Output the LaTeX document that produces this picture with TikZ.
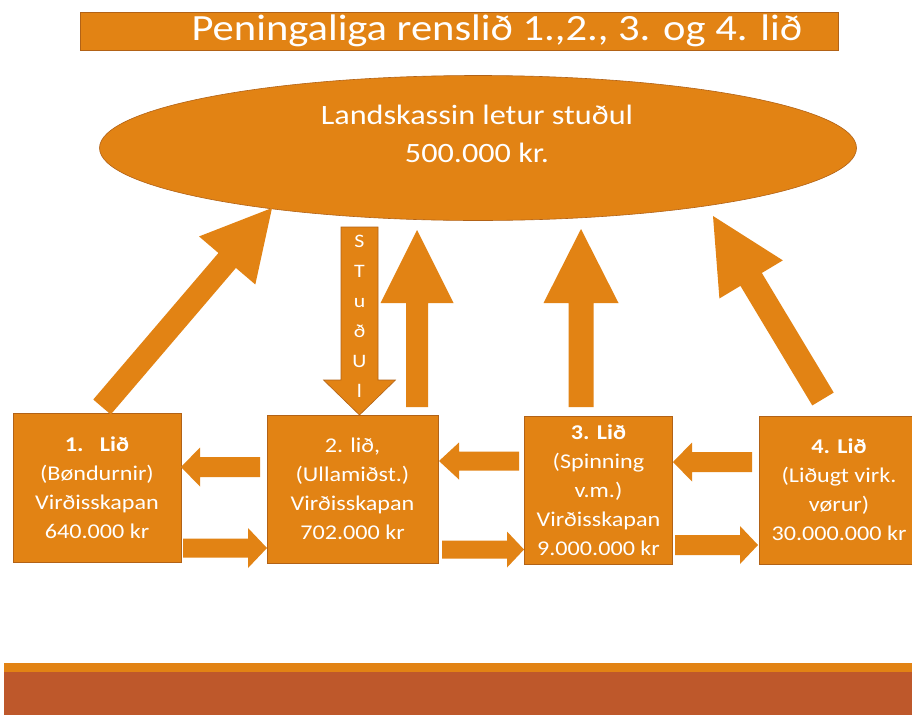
\documentclass[tikz,border=0pt]{standalone}
\usepackage{fontspec}
\setmainfont{Carlito}[FakeStretch=1.15]
\usetikzlibrary{calc,shapes.geometric}
\definecolor{orfill}{RGB}{226,131,20}
\definecolor{orline}{RGB}{178,98,22}
\definecolor{ordark}{RGB}{190,88,43}
\tikzset{
  boxnode/.style={draw=orline,line width=0.7pt,fill=orfill,minimum width=#1,minimum height=148pt,inner sep=0pt},
  boxtext/.style={text=white,align=center,font=\fontsize{21}{29}\selectfont,inner sep=0pt},
  arrowfill/.style={fill=orfill},
}
\newcommand\blockarrow[6][]{%
  \coordinate (ba-b) at ($(#3)!#6!(#2)$);
  \path[arrowfill,#1] ($(#2)!#4!90:(#3)$) -- ($(ba-b)!#4!-90:(#2)$) -- ($(ba-b)!#5!-90:(#2)$) -- (#3)
     -- ($(ba-b)!#5!90:(#2)$) -- ($(ba-b)!#4!90:(#2)$) -- ($(#2)!#4!-90:(#3)$) -- cycle;
}
\begin{document}
\begin{tikzpicture}[x=1pt,y=-1pt]
\useasboundingbox[fill=white] (0,0) rectangle (912,715);
% title
\node[draw=orline,line width=0.6pt,fill=orfill,minimum width=758pt,minimum height=38pt,inner sep=0pt] (titlebar) at (459,31) {};
\node[text=white,font=\fontsize{37}{40}\selectfont,inner sep=0pt] (title) at (497,31) {Peningaliga renslið 1.,2., 3. og 4. lið};
% ellipse
\node[ellipse,draw=orline,line width=0.6pt,fill=orfill,minimum width=757pt,minimum height=145pt,inner sep=0pt] (kassi) at (478,148) {};
\node[text=white,align=center,font=\fontsize{28}{38}\selectfont,inner sep=0pt] (kassitext) at (477,134) {Landskassin letur stuðul\\500.000 kr.};
% boxes
\node[boxnode=168pt,minimum height=149pt] (b1) at (97,487.5) {};
\node[boxtext] (t1) at (b1) {\textbf{1.\ \ \ Lið}\\(Bøndurnir)\\Virðisskapan\\640.000 kr};
\node[boxnode=171pt] (b2) at (352.5,489) {};
\node[boxtext] (t2) at (b2) {2. lið,\\(Ullamiðst.)\\Virðisskapan\\702.000 kr};
\node[boxnode=148pt] (b3) at (598.5,490) {};
\node[boxtext] (t3) at (b3) {\textbf{3. Lið}\\(Spinning\\v.m.)\\Virðisskapan\\9.000.000 kr};
\node[boxnode=160pt] (b4) at (839,490) {};
\node[boxtext] (t4) at (b4) {\textbf{4. Lið}\\(Liðugt virk.\\vørur)\\30.000.000 kr};
% arrow end points
\coordinate (a1t) at (102,407); \coordinate (a1h) at (272,208);
\coordinate (a2t) at (417,407); \coordinate (a2h) at (417,230);
\coordinate (a3t) at (581,407); \coordinate (a3h) at (581,229);
\coordinate (a4t) at (823,399); \coordinate (a4h) at (713,216);
\coordinate (dt) at (359.5,227); \coordinate (dh) at (359.5,415);
\coordinate (l12t) at (260,467); \coordinate (l12h) at (181,467);
\coordinate (r12t) at (183,548); \coordinate (r12h) at (267,548);
\coordinate (l23t) at (519,461); \coordinate (l23h) at (439,461);
\coordinate (r23t) at (442,549.5); \coordinate (r23h) at (524,549.5);
\coordinate (l34t) at (752,462); \coordinate (l34h) at (673,462);
\coordinate (r34t) at (675,545); \coordinate (r34h) at (758,545);
% big arrows
\blockarrow{a1t}{a1h}{11.5pt}{37pt}{69pt}
\blockarrow{a2t}{a2h}{11pt}{36.5pt}{73pt}
\blockarrow{a3t}{a3h}{12.5pt}{37.5pt}{74pt}
\blockarrow{a4t}{a4h}{12.5pt}{37pt}{74pt}
\blockarrow[draw=orline,line width=0.6pt]{dt}{dh}{18.5pt}{36pt}{35pt}
\node[text=white,align=center,font=\fontsize{19}{30}\selectfont,inner sep=0pt] (stu) at (359.5,316) {S\\T\\u\\ð\\U\\l};
% small arrows
\blockarrow{l12t}{l12h}{10pt}{19.5pt}{19pt}
\blockarrow{r12t}{r12h}{9.5pt}{20pt}{19pt}
\blockarrow{l23t}{l23h}{9.5pt}{18.5pt}{20pt}
\blockarrow{r23t}{r23h}{9pt}{18pt}{17pt}
\blockarrow{l34t}{l34h}{10pt}{19.5pt}{19pt}
\blockarrow{r34t}{r34h}{10pt}{19pt}{18pt}
% bottom band
\fill[orfill] (4,663) rectangle (912,672);
\fill[ordark] (4,672) rectangle (912,715);
\end{tikzpicture}
\end{document}
